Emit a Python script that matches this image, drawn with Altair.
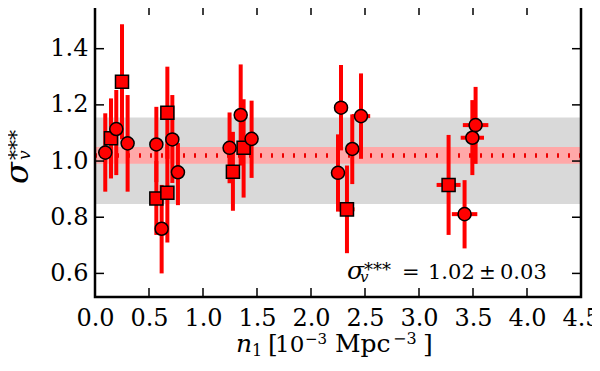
import altair as alt
import pandas as pd

# ---- data ----
n1 = [0.095, 0.148, 0.197, 0.250, 0.302,
      0.568, 0.568, 0.617, 0.670, 0.670, 0.716, 0.768,
      1.246, 1.277, 1.349, 1.376, 1.450,
      2.250, 2.278, 2.333, 2.382, 2.463,
      3.274, 3.422, 3.494, 3.524]
sigma = [1.030, 1.081, 1.114, 1.282, 1.063,
         1.059, 0.867, 0.759, 1.172, 0.887, 1.077, 0.960,
         1.047, 0.962, 1.164, 1.047, 1.079,
         0.958, 1.190, 0.828, 1.043, 1.160,
         0.915, 0.811, 1.083, 1.128]
sigma_hi = [1.170, 1.223, 1.253, 1.487, 1.235,
            1.193, 1.000, 0.915, 1.336, 1.060, 1.235, 1.064,
            1.173, 1.104, 1.344, 1.220, 1.215,
            1.095, 1.342, 0.984, 1.166, 1.312,
            1.093, 0.932, 1.217, 1.264]
sigma_lo = [0.891, 0.938, 0.950, 1.077, 0.891,
            0.925, 0.737, 0.600, 1.008, 0.710, 0.922, 0.843,
            0.921, 0.823, 0.984, 0.870, 0.940,
            0.820, 1.038, 0.672, 0.918, 1.008,
            0.737, 0.689, 0.950, 0.990]
n1_err = [0.03, 0.03, 0.03, 0.03, 0.03,
          0.03, 0.03, 0.03, 0.03, 0.03, 0.03, 0.03,
          0.04, 0.04, 0.04, 0.04, 0.04,
          0.05, 0.05, 0.07, 0.05, 0.085,
          0.111, 0.118, 0.108, 0.118]
marker = ["circle", "square", "circle", "square", "circle",
          "circle", "square", "circle", "square", "square", "circle", "circle",
          "circle", "square", "circle", "square", "circle",
          "circle", "circle", "square", "circle", "circle",
          "square", "circle", "circle", "circle"]

mean_val = [1.02]
mean_band = [0.99, 1.05]
scatter_band = [0.847, 1.155]

x_ticks = [0.0, 0.5, 1.0, 1.5, 2.0, 2.5, 3.0, 3.5, 4.0, 4.5]
y_ticks = [0.6, 0.8, 1.0, 1.2, 1.4]
x_domain = [0.0, 4.5]
y_domain = [0.516, 1.552]

W, H = 486, 291
FONT = "DejaVu Serif"
TICK = 9

df = pd.DataFrame({
    "x": n1, "y": sigma, "hi": sigma_hi, "lo": sigma_lo,
    "xlo": [a - e for a, e in zip(n1, n1_err)],
    "xhi": [a + e for a, e in zip(n1, n1_err)],
    "m": marker,
})

xs = alt.Scale(domain=x_domain, nice=False, zero=False)
ys = alt.Scale(domain=y_domain, nice=False, zero=False)

xaxis = alt.Axis(values=x_ticks, format=".1f", title=None, ticks=False, domain=False,
                 grid=False, labelPadding=9, labelFontSize=24, labelFont=FONT,
                 labelColor="black", labelFlush=False, labelOverlap=False, labelBound=False)
yaxis = alt.Axis(values=y_ticks, format=".1f", title=None, ticks=False, domain=False,
                 grid=False, labelPadding=7, labelFontSize=24, labelFont=FONT,
                 labelColor="black", labelFlush=False, labelOverlap=False, labelBound=False)

bands = pd.DataFrame({"lo": [scatter_band[0], mean_band[0]],
                      "hi": [scatter_band[1], mean_band[1]],
                      "k": ["scatter", "mean"]})
band_layer = alt.Chart(bands).mark_rect().encode(
    x=alt.value(0), x2=alt.value(W),
    y=alt.Y("lo:Q", scale=ys, axis=yaxis), y2="hi:Q",
    color=alt.Color("k:N", scale=alt.Scale(domain=["scatter", "mean"],
                                           range=["#d9d9d9", "#ffa8a8"]), legend=None),
)

mean_line = alt.Chart(pd.DataFrame({"y": mean_val})).mark_rule(
    color="#ee0000", strokeWidth=4.5, strokeDash=[2, 9]
).encode(y=alt.Y("y:Q", scale=ys), x=alt.value(0), x2=alt.value(W))

ebar_y = alt.Chart(df).mark_rule(color="#ff0000", strokeWidth=4).encode(
    x=alt.X("x:Q", scale=xs, axis=xaxis), y=alt.Y("lo:Q", scale=ys), y2="hi:Q")
ebar_x = alt.Chart(df).mark_rule(color="#ff0000", strokeWidth=4).encode(
    x=alt.X("xlo:Q", scale=xs), x2="xhi:Q", y=alt.Y("y:Q", scale=ys))

points = alt.Chart(df).mark_point(filled=True, fill="#ff0000", stroke="black",
                                  strokeWidth=1.5, size=170, opacity=1).encode(
    x=alt.X("x:Q", scale=xs), y=alt.Y("y:Q", scale=ys),
    shape=alt.Shape("m:N", scale=alt.Scale(domain=["circle", "square"],
                                           range=["circle", "square"]), legend=None),
)

xt = pd.DataFrame({"v": x_ticks})
yt = pd.DataFrame({"v": y_ticks})
tick_style = dict(color="black", strokeWidth=1.5)
xt_bot = alt.Chart(xt).mark_rule(**tick_style).encode(
    x=alt.X("v:Q", scale=xs), y=alt.value(H), y2=alt.value(H - TICK))
xt_top = alt.Chart(xt).mark_rule(**tick_style).encode(
    x=alt.X("v:Q", scale=xs), y=alt.value(0), y2=alt.value(TICK))
yt_left = alt.Chart(yt).mark_rule(**tick_style).encode(
    y=alt.Y("v:Q", scale=ys), x=alt.value(0), x2=alt.value(TICK))
yt_right = alt.Chart(yt).mark_rule(**tick_style).encode(
    y=alt.Y("v:Q", scale=ys), x=alt.value(W), x2=alt.value(W - TICK))

frame = alt.Chart(pd.DataFrame({"f": [0]})).mark_rect(
    fill=None, stroke="black", strokeWidth=2.5
).encode(x=alt.value(0), x2=alt.value(W), y=alt.value(0), y2=alt.value(H))


def txt(s, x, y, size, italic=False, angle=0, align="left", baseline="alphabetic"):
    return alt.Chart(pd.DataFrame({"t": [s]})).mark_text(
        font=FONT, fontSize=size, fontStyle="italic" if italic else "normal",
        angle=angle, align=align, baseline=baseline, color="black"
    ).encode(text="t:N", x=alt.value(x), y=alt.value(y))


labels = [
    # x-axis title: n_1 [10^-3 Mpc^-3]
    txt("n", 141, 346, 25, italic=True),
    txt("1", 157, 350, 16),
    txt("[", 173, 346, 25),
    txt("10", 180, 346, 23),
    txt("\u22123", 210, 338, 15),
    txt("Mpc", 240, 346, 25),
    txt("\u22123", 298, 338, 16),
    txt("]", 328, 346, 25),
    # y-axis title: sigma_v^***
    txt("\u03c3", -67, 178, 32, italic=True, angle=270),
    txt("v", -65, 154, 17, italic=True, angle=270),
    txt("***", -72, 154, 20, angle=270),
    # annotation: sigma_v^*** = 1.02 +- 0.03
    txt("\u03c3", 252, 273, 25, italic=True),
    txt("***", 269, 270, 18),
    txt("v", 265, 276, 15, italic=True),
    txt("=", 307, 273, 21),
    txt("1.02", 333, 273, 21),
    txt("\u00b1", 384, 273, 20),
    txt("0.03", 405, 273, 21),
]

chart = alt.layer(
    band_layer, mean_line, ebar_y, ebar_x, points,
    xt_bot, xt_top, yt_left, yt_right, frame, *labels
).properties(
    width=W, height=H,
    autosize="none",
    padding={"left": 87, "top": -2, "right": 11, "bottom": 66},
).configure_view(stroke=None).configure(background="white")

chart.save("out.html", embed_options={"renderer": "svg", "actions": False})
